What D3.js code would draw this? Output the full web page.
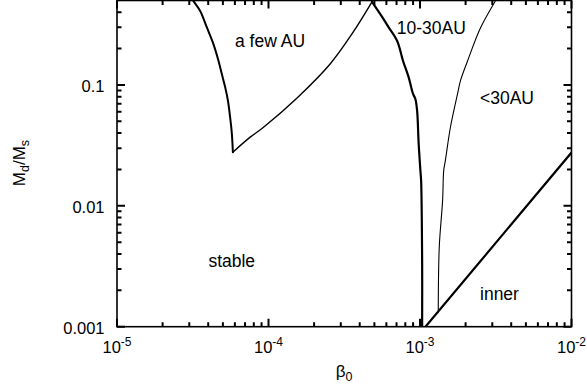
<!DOCTYPE html>
<html>
<head>
<meta charset="utf-8">
<script src="https://cdn.jsdelivr.net/npm/d3@7"></script>
<style>
  html, body { margin: 0; padding: 0; background: #fff; }
  svg { display: block; }
  text { font-family: "Liberation Sans", Arial, Helvetica, sans-serif; fill: #000; }
</style>
</head>
<body>
<svg id="chart" width="587" height="387"></svg>
<script>
// Stability boundaries in the (beta0, Md/Ms) plane; each point is [beta0, Md/Ms]
const fewAuLeft = [
  [3.04e-5, 0.546], [3.19e-5, 0.496], [3.54e-5, 0.410], [3.92e-5, 0.299],
  [4.33e-5, 0.218], [4.68e-5, 0.158], [4.92e-5, 0.123], [5.18e-5, 0.0955],
  [5.40e-5, 0.0741], [5.58e-5, 0.0541], [5.73e-5, 0.0394], [5.82e-5, 0.0278]
];
const fewAuRight = [
  [5.82e-5, 0.0278], [7.57e-5, 0.037], [9.23e-5, 0.0445], [1.55e-4, 0.0785],
  [2.56e-4, 0.150], [3.61e-4, 0.272], [4.82e-4, 0.487]
];
const midBoundary = [
  [4.82e-4, 0.487], [5.47e-4, 0.385], [6.18e-4, 0.303], [7.06e-4, 0.232],
  [7.73e-4, 0.158], [8.42e-4, 0.1156], [9.00e-4, 0.0843], [9.32e-4, 0.0766],
  [9.57e-4, 0.0614], [9.80e-4, 0.0326], [1.006e-3, 0.0196], [1.017e-3, 0.0162],
  [1.033e-3, 0.00355], [1.033e-3, 0.001]
];
const outerBoundary = [
  [3.29e-3, 0.546], [3.15e-3, 0.497], [2.51e-3, 0.297], [2.06e-3, 0.158],
  [1.85e-3, 0.1085], [1.77e-3, 0.0847], [1.588e-3, 0.0447], [1.47e-3, 0.0237],
  [1.434e-3, 0.0196], [1.41e-3, 0.0111], [1.34e-3, 0.00455], [1.32e-3, 0.00132]
];
const innerBoundary = [[1.087e-3, 0.001], [1e-2, 0.0276]];

const regionLabels = [
  { text: "a few AU", x: 6.01e-5, y: 0.2056 },
  { text: "10-30AU", x: 7.02e-4, y: 0.2655 },
  { text: "<30AU", x: 2.49e-3, y: 0.0692 },
  { text: "stable", x: 4.01e-5, y: 0.0031 },
  { text: "inner", x: 2.49e-3, y: 0.00166 }
];

const xDomain = [1e-5, 1e-2];
const yDomain = [0.001, 0.5];
const xMajor = [1e-5, 1e-4, 1e-3, 1e-2];
const xMajorExp = ["-5", "-4", "-3", "-2"];
const yMajor = [0.001, 0.01, 0.1];
const yMajorLabels = ["0.001", "0.01", "0.1"];

const svg = d3.select("#chart");
const plotLeft = 117, plotRight = 571.5, plotTop = 0.5, plotBottom = 326.7;

const x = d3.scaleLog().domain(xDomain).range([plotLeft, plotRight]);
const y = d3.scaleLog().domain(yDomain).range([plotBottom, plotTop]);

// minor ticks: 2..9 of each decade
function minorTicks(domain) {
  const out = [];
  for (let e = Math.floor(Math.log10(domain[0])); e <= Math.ceil(Math.log10(domain[1])); e++) {
    for (let m = 2; m <= 9; m++) {
      const v = m * Math.pow(10, e);
      if (v > domain[0] * 1.0001 && v < domain[1] * 0.9999) out.push(v);
    }
  }
  return out;
}
const xMinor = minorTicks(xDomain);
const yMinor = minorTicks(yDomain);

svg.append("clipPath").attr("id", "plotClip")
  .append("rect").attr("x", plotLeft).attr("y", plotTop)
  .attr("width", plotRight - plotLeft).attr("height", plotBottom - plotTop);

const smooth = d3.line().x(d => x(d[0])).y(d => y(d[1])).curve(d3.curveCatmullRom.alpha(0.5));
const straight = d3.line().x(d => x(d[0])).y(d => y(d[1]));
const curves = svg.append("g").attr("clip-path", "url(#plotClip)")
  .attr("fill", "none").attr("stroke", "#000")
  .attr("stroke-linejoin", "round").attr("stroke-linecap", "round");

curves.append("path").datum(fewAuLeft).attr("d", smooth).attr("stroke-width", 2);
curves.append("path").datum(fewAuRight).attr("d", smooth).attr("stroke-width", 1.4);
curves.append("path").datum(midBoundary).attr("d", smooth).attr("stroke-width", 2.2);
curves.append("path").datum(outerBoundary).attr("d", smooth).attr("stroke-width", 1.1);
curves.append("path").datum(innerBoundary).attr("d", straight).attr("stroke-width", 2.2);

// inward ticks on all four sides, majors longer than minors
const majorLen = 8, minorLen = 4.5;
const tickPath = d3.path();
xMajor.forEach(v => {
  tickPath.moveTo(x(v), plotBottom); tickPath.lineTo(x(v), plotBottom - majorLen);
  tickPath.moveTo(x(v), plotTop); tickPath.lineTo(x(v), plotTop + majorLen);
});
xMinor.forEach(v => {
  tickPath.moveTo(x(v), plotBottom); tickPath.lineTo(x(v), plotBottom - minorLen);
  tickPath.moveTo(x(v), plotTop); tickPath.lineTo(x(v), plotTop + minorLen);
});
yMajor.forEach(v => {
  tickPath.moveTo(plotLeft, y(v)); tickPath.lineTo(plotLeft + majorLen, y(v));
  tickPath.moveTo(plotRight, y(v)); tickPath.lineTo(plotRight - majorLen, y(v));
});
yMinor.forEach(v => {
  tickPath.moveTo(plotLeft, y(v)); tickPath.lineTo(plotLeft + minorLen, y(v));
  tickPath.moveTo(plotRight, y(v)); tickPath.lineTo(plotRight - minorLen, y(v));
});
svg.append("path").attr("d", tickPath.toString())
  .attr("fill", "none").attr("stroke", "#000").attr("stroke-width", 2);

// frame
svg.append("rect").attr("x", plotLeft).attr("y", plotTop)
  .attr("width", plotRight - plotLeft).attr("height", plotBottom - plotTop)
  .attr("fill", "none").attr("stroke", "#000").attr("stroke-width", 1.6);

// x tick labels: 10 with superscript exponent
xMajor.forEach((v, i) => {
  const t = svg.append("text").attr("x", x(v)).attr("y", 353.3)
    .attr("text-anchor", "middle").style("font-size", "16.5px");
  t.append("tspan").text("10");
  t.append("tspan").attr("dy", -7).style("font-size", "12px").text(xMajorExp[i]);
});

// y tick labels
yMajor.forEach((v, i) => {
  svg.append("text").attr("x", 104.5).attr("y", y(v) + 7)
    .attr("text-anchor", "end").style("font-size", "16.5px").text(yMajorLabels[i]);
});

// axis titles
const xt = svg.append("text").attr("x", 344).attr("y", 377)
  .attr("text-anchor", "middle").style("font-size", "17px");
xt.append("tspan").text("β");
xt.append("tspan").attr("dy", 4).style("font-size", "12.5px").text("0");

const yt = svg.append("text").attr("transform", "translate(25,163) rotate(-90)")
  .attr("text-anchor", "middle").style("font-size", "17px");
yt.append("tspan").text("M");
yt.append("tspan").attr("dy", 4).style("font-size", "12.5px").text("d");
yt.append("tspan").attr("dy", -4).text("/M");
yt.append("tspan").attr("dy", 4).style("font-size", "12.5px").text("s");

// region labels
svg.append("g").selectAll("text").data(regionLabels).join("text")
  .attr("x", d => x(d.x)).attr("y", d => y(d.y))
  .style("font-size", "17.5px")
  .text(d => d.text);
</script>
</body>
</html>
